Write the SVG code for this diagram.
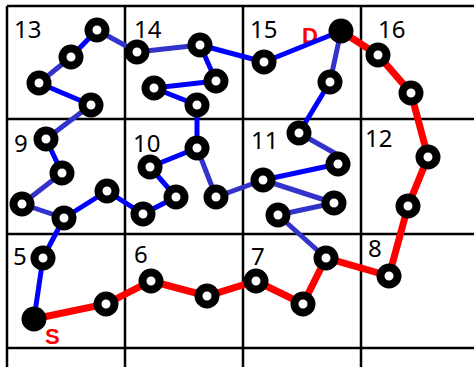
<svg xmlns="http://www.w3.org/2000/svg" width="474" height="367" viewBox="0 0 474 367">
<style>
.g{stroke:#000;stroke-width:2.5;fill:none}
.b{stroke:#0000ff;stroke-width:5;fill:none}
.p{stroke:#3333cc;stroke-width:5;fill:none}
.r{stroke:#ff0000;stroke-width:7;fill:none}
.n{fill:#fff;stroke:#000;stroke-width:8}
.e{fill:#000}
.lab{font-family:"Noto Sans","Liberation Sans",sans-serif;font-size:24px;fill:#000}
.sd{font-family:"Liberation Sans",sans-serif;font-weight:bold;font-size:22px;fill:#ff0000}
</style>
<rect width="474" height="367" fill="#fff"/>
<g id="grid">
<path class="g" d="M7 6H474M7 119H474M7 234H474M7 348H474M7 6V367M125 6V367M243 6V367M361 6V367"/>
</g>
<g id="labels">
<text class="lab" x="14" y="38">13</text>
<text class="lab" x="134" y="38">14</text>
<text class="lab" x="250" y="38">15</text>
<text class="lab" x="378" y="38">16</text>
<text class="lab" x="14" y="152">9</text>
<text class="lab" x="133" y="152">10</text>
<text class="lab" x="251" y="149">11</text>
<text class="lab" x="365" y="147">12</text>
<text class="lab" x="13" y="265">5</text>
<text class="lab" x="134" y="263">6</text>
<text class="lab" x="251" y="265">7</text>
<text class="lab" x="368" y="257">8</text>
<text class="sd" x="302" y="43">D</text>
<text class="sd" x="45" y="344">S</text>
</g>
<g id="connectors">
<line class="b" x1="34" y1="319" x2="43" y2="258"/>
<line class="b" x1="43" y1="258" x2="64" y2="218"/>
<line class="b" x1="64" y1="218" x2="107" y2="191"/>
<line class="p" x1="64" y1="218" x2="22" y2="204"/>
<line class="p" x1="22" y1="204" x2="62" y2="173"/>
<line class="b" x1="62" y1="173" x2="46" y2="139"/>
<line class="p" x1="46" y1="139" x2="91" y2="105"/>
<line class="b" x1="91" y1="105" x2="39" y2="83"/>
<line class="p" x1="39" y1="83" x2="71" y2="57"/>
<line class="b" x1="71" y1="57" x2="97" y2="30"/>
<line class="p" x1="97" y1="30" x2="137" y2="52"/>
<line class="p" x1="137" y1="52" x2="200" y2="45"/>
<line class="b" x1="200" y1="45" x2="264" y2="62"/>
<line class="b" x1="264" y1="62" x2="341" y2="31"/>
<line class="p" x1="341" y1="31" x2="330" y2="82"/>
<line class="b" x1="330" y1="82" x2="299" y2="133"/>
<line class="p" x1="299" y1="133" x2="338" y2="155"/>
<line class="b" x1="200" y1="45" x2="216" y2="81"/>
<line class="b" x1="216" y1="81" x2="154" y2="88"/>
<line class="b" x1="154" y1="88" x2="197" y2="105"/>
<line class="b" x1="197" y1="105" x2="197" y2="148"/>
<line class="b" x1="197" y1="148" x2="150" y2="167"/>
<line class="b" x1="150" y1="167" x2="176" y2="197"/>
<line class="b" x1="176" y1="197" x2="143" y2="214"/>
<line class="b" x1="143" y1="214" x2="107" y2="191"/>
<line class="p" x1="197" y1="148" x2="216" y2="197"/>
<line class="p" x1="216" y1="197" x2="263" y2="180"/>
<line class="b" x1="263" y1="180" x2="338" y2="164"/>
<line class="p" x1="263" y1="180" x2="334" y2="203"/>
<line class="p" x1="334" y1="203" x2="278" y2="215"/>
<line class="p" x1="278" y1="215" x2="326" y2="258"/>
<polyline class="r" points="34,319 106,304 151,281 207,296 256,281 303,304 326,258 389,276 408,206 428,157 411,93 378,55 341,31"/>
</g>
<g id="nodes">
<g id="n13a"><circle class="n" cx="97" cy="30" r="8.5"/></g>
<g id="n13b"><circle class="n" cx="71" cy="57" r="8.5"/></g>
<g id="n13c"><circle class="n" cx="39" cy="83" r="8.5"/></g>
<g id="n13d"><circle class="n" cx="91" cy="105" r="8.5"/></g>
<g id="n14a"><circle class="n" cx="137" cy="52" r="8.5"/></g>
<g id="n14b"><circle class="n" cx="200" cy="45" r="8.5"/></g>
<g id="n14c"><circle class="n" cx="216" cy="81" r="8.5"/></g>
<g id="n14d"><circle class="n" cx="154" cy="88" r="8.5"/></g>
<g id="n14e"><circle class="n" cx="197" cy="105" r="8.5"/></g>
<g id="n15a"><circle class="n" cx="264" cy="62" r="8.5"/></g>
<g id="n15b"><circle class="n" cx="330" cy="82" r="8.5"/></g>
<g id="n16a"><circle class="n" cx="378" cy="55" r="8.5"/></g>
<g id="n16b"><circle class="n" cx="411" cy="93" r="8.5"/></g>
<g id="n9a"><circle class="n" cx="46" cy="139" r="8.5"/></g>
<g id="n9b"><circle class="n" cx="62" cy="173" r="8.5"/></g>
<g id="n9c"><circle class="n" cx="22" cy="204" r="8.5"/></g>
<g id="n9d"><circle class="n" cx="64" cy="218" r="8.5"/></g>
<g id="n9e"><circle class="n" cx="107" cy="191" r="8.5"/></g>
<g id="n10a"><circle class="n" cx="197" cy="148" r="8.5"/></g>
<g id="n10b"><circle class="n" cx="150" cy="167" r="8.5"/></g>
<g id="n10c"><circle class="n" cx="176" cy="197" r="8.5"/></g>
<g id="n10d"><circle class="n" cx="143" cy="214" r="8.5"/></g>
<g id="n10e"><circle class="n" cx="216" cy="197" r="8.5"/></g>
<g id="n11a"><circle class="n" cx="299" cy="133" r="8.5"/></g>
<g id="n11b"><circle class="n" cx="338" cy="164" r="8.5"/></g>
<g id="n11c"><circle class="n" cx="263" cy="180" r="8.5"/></g>
<g id="n11d"><circle class="n" cx="334" cy="203" r="8.5"/></g>
<g id="n11e"><circle class="n" cx="278" cy="215" r="8.5"/></g>
<g id="n12a"><circle class="n" cx="428" cy="157" r="8.5"/></g>
<g id="n12b"><circle class="n" cx="408" cy="206" r="8.5"/></g>
<g id="n5a"><circle class="n" cx="43" cy="258" r="8.5"/></g>
<g id="n6a"><circle class="n" cx="106" cy="304" r="8.5"/></g>
<g id="n6b"><circle class="n" cx="151" cy="281" r="8.5"/></g>
<g id="n6c"><circle class="n" cx="207" cy="296" r="8.5"/></g>
<g id="n7a"><circle class="n" cx="256" cy="281" r="8.5"/></g>
<g id="n7b"><circle class="n" cx="303" cy="304" r="8.5"/></g>
<g id="n7c"><circle class="n" cx="326" cy="258" r="8.5"/></g>
<g id="n8a"><circle class="n" cx="389" cy="276" r="8.5"/></g>
<g id="S"><circle class="e" cx="34" cy="319" r="12.5"/></g>
<g id="D"><circle class="e" cx="341" cy="31" r="12.5"/></g>
</g>
</svg>
